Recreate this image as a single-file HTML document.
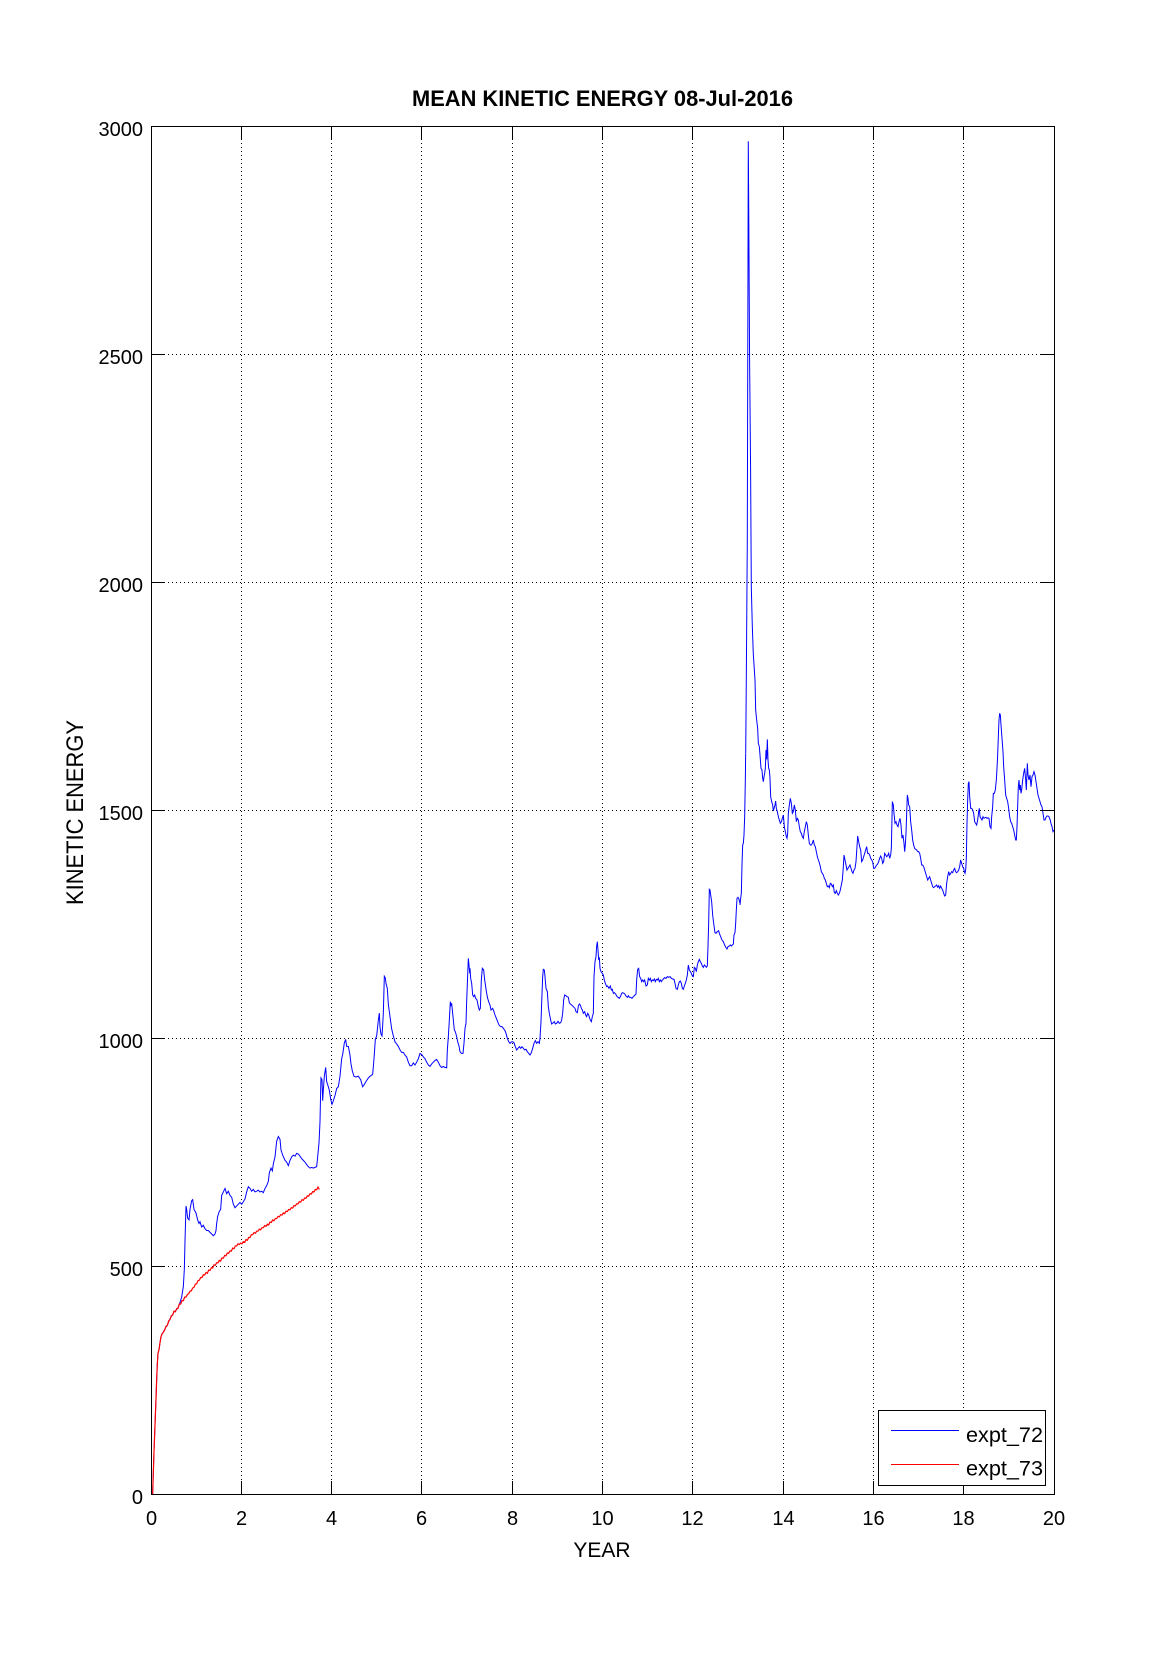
<!DOCTYPE html>
<html>
<head>
<meta charset="utf-8">
<style>
html,body{margin:0;padding:0;background:#fff;}
svg{display:block;}
text{font-family:"Liberation Sans",Arial,sans-serif;fill:#000;}
</style>
</head>
<body>
<svg width="1165" height="1679" viewBox="0 0 1165 1679" xmlns="http://www.w3.org/2000/svg">
<rect x="0" y="0" width="1165" height="1679" fill="#fff"/>

<!-- grid -->
<g stroke="#000" stroke-width="1" stroke-dasharray="1,3" fill="none">
  <line x1="241.5" y1="127" x2="241.5" y2="1494"/>
  <line x1="331.5" y1="127" x2="331.5" y2="1494"/>
  <line x1="421.5" y1="127" x2="421.5" y2="1494"/>
  <line x1="512.5" y1="127" x2="512.5" y2="1494"/>
  <line x1="602.5" y1="127" x2="602.5" y2="1494"/>
  <line x1="692.5" y1="127" x2="692.5" y2="1494"/>
  <line x1="783.5" y1="127" x2="783.5" y2="1494"/>
  <line x1="873.5" y1="127" x2="873.5" y2="1494"/>
  <line x1="963.5" y1="127" x2="963.5" y2="1494"/>
  <line x1="152" y1="354.5" x2="1054" y2="354.5"/>
  <line x1="152" y1="582.5" x2="1054" y2="582.5"/>
  <line x1="152" y1="810.5" x2="1054" y2="810.5"/>
  <line x1="152" y1="1038.5" x2="1054" y2="1038.5"/>
  <line x1="152" y1="1266.5" x2="1054" y2="1266.5"/>
</g>

<!-- blue series piece 1 (years 0 - 6.6) -->
<g transform="translate(150,950) scale(0.333333,0.350631)">
<polyline fill="none" stroke="#0000ff" stroke-width="1" vector-effect="non-scaling-stroke" points="
8,1552 10,1490 12,1430 14,1380 16,1330 18,1280 20,1225 22,1180 24,1150 27,1140 30,1120 33,1103 36,1095 40,1090 44,1082 48,1075 52,1070 56,1060 60,1052 64,1045 68,1040 72,1032 76,1030 80,1025 84,1020
90,1005 95,990 100,960 103,910 105,830 108,730 110,740 113,765 117,770 120,740 125,715 128,712 132,740 138,750 143,770 147,780 150,775 155,790 160,785 165,795 170,800 175,800 180,805 185,810 190,815 195,810 198,800 200,780 203,760 208,745 212,740 215,700 220,690 225,680 230,695 235,688 240,700 245,705 250,725 255,735 260,730 265,725 270,720 275,725 280,718 285,710 290,690 295,675 300,680 305,688 310,683 315,690 320,688 325,685 330,690 335,688 340,692 345,680 350,672 355,660 358,635 363,622 367,630 370,610 375,590 380,545 385,532 390,540 393,570 398,585 405,600 410,605 415,615 420,600 425,590 430,585 435,588 440,580 445,582 450,588 455,595 460,600 465,605 470,612 475,618 480,622 485,620 490,622 495,620 500,618 503,590 507,550 510,490 512,400 513,365 516,370 518,430 520,400 523,360 527,335 530,375 535,390 538,400 542,425 546,440 550,430 555,415 560,395 565,390 570,360 575,310 578,298 583,265 587,255 590,275 595,275 600,300 603,325 607,345 612,360 618,362 625,360 632,370 638,390 642,385 648,375 655,365 660,360 668,355 672,310 676,255 680,245 685,200 688,180 690,220 693,240 696,245 698,215 700,180 703,75 706,80 708,95 712,110 715,155 720,190 725,225 730,245 735,262 740,268 745,275 750,285 755,292 760,292 765,300 770,305 775,320 780,330 785,330 790,322 795,328 800,320 805,310 810,295 815,298 820,305 825,310 830,320 835,328 840,332 845,325 850,320 855,315 860,312 865,320 870,330 875,335 880,332 885,335 890,335"/>
</g>

<!-- blue series piece 2 (years 6.5 - 13.2) -->
<g transform="translate(440,880) scale(0.333333)">
<polyline fill="none" stroke="#0000ff" stroke-width="1" vector-effect="non-scaling-stroke" points="
20,565 22,510 25,470 28,420 31,365 33,375 35,370 38,400 40,420 43,450 46,455 50,470 53,485 57,498 60,515 64,520 69,520 72,490 75,445 78,430 80,365 83,285 85,235 87,255 89,280 90,265 92,295 95,310 98,345 101,350 104,345 107,355 111,360 115,380 118,390 121,385 124,300 127,265 131,270 134,300 137,320 140,340 143,355 146,365 150,375 153,390 158,385 162,395 165,405 169,415 173,425 177,435 182,440 186,440 190,445 195,452 198,460 202,475 206,485 210,490 214,486 218,485 222,488 226,500 230,510 234,505 238,500 242,505 246,500 250,505 254,510 258,508 262,515 266,520 270,525 274,518 278,505 282,490 286,482 290,490 294,485 298,490 300,475 303,425 305,370 308,290 310,268 313,270 315,290 318,325 322,335 325,380 328,400 332,420 335,432 340,428 343,425 346,432 350,430 354,424 358,430 362,428 365,420 368,400 371,360 374,345 378,347 381,350 385,352 388,368 391,372 395,375 400,380 405,385 408,395 412,398 415,378 418,372 421,375 424,385 427,390 430,400 434,395 437,405 440,410 443,400 446,405 450,418 454,425 457,410 460,400 462,290 465,245 468,230 470,198 472,185 474,210 476,240 478,232 480,265 483,275 487,280 490,285 493,300 496,310 500,320 503,318 507,325 511,318 514,330 517,328 520,340 523,338 527,342 530,348 534,352 538,355 542,348 545,340 548,338 552,340 555,343 558,348 562,352 565,347 568,352 572,352 576,355 580,350 585,345 588,342 590,300 593,268 596,265 599,290 602,295 605,305 608,300 611,305 614,300 618,318 622,315 625,295 628,300 631,295 634,305 637,300 640,302 643,297 646,305 649,298 652,300 655,295 658,305 661,300 664,305 667,300 670,297 674,293 678,295 682,290 686,292 690,290 694,295 698,297 702,298 705,310 708,325 712,328 715,315 718,305 721,303 724,310 727,325 730,328 733,318 736,310 739,300 742,285 745,255 748,270 751,275 754,280 757,288 760,290 763,262 766,265 769,275 772,255 775,245 778,238 781,245 784,250 787,258 790,262 793,255 796,258 799,262 802,258 804,200 806,130 808,28 810,30 812,45 815,65 818,105 821,130 825,158 828,160 832,155 836,152 838,160 842,170 846,180 850,185 854,195 858,203 861,207 864,200 868,198 871,195 874,198 877,195 880,192 882,165 885,157 887,130 889,90 891,55 894,52 897,58 900,70"/>
</g>

<!-- blue series piece 3a (years 13.0 - 13.2) -->
<g transform="translate(720,680) scale(0.333333)">
<polyline fill="none" stroke="#0000ff" stroke-width="1" vector-effect="non-scaling-stroke" points="
60,675 62,655 64,640 66,555 68,495 70,490 72,465 74,410 76,300 77,220"/>
</g>

<!-- spike -->
<polyline fill="none" stroke="#0000ff" stroke-width="1" points="745.7,753.3 746.3,680 747.3,541.5 748.3,141.2 748.8,219.5 749.6,361 750.6,469 751.3,587 752.3,626 753.3,654 755,680"/>

<!-- blue series piece 3b (years 13.3 - 20) -->
<g transform="translate(720,680) scale(0.333333)">
<polyline fill="none" stroke="#0000ff" stroke-width="1" vector-effect="non-scaling-stroke" points="
105,0 107,90 110,120 113,145 115,190 118,200 120,225 123,265 126,270 128,295 130,305 132,290 134,280 136,265 138,210 140,238 142,178 144,240 146,265 148,270 150,295 152,350 155,365 158,375 160,393 162,385 165,375 167,363 169,385 172,395 175,410 178,420 181,430 184,425 187,415 190,405 193,440 196,455 199,470 201,475 203,460 205,400 208,375 211,355 214,370 217,400 220,395 223,375 226,390 229,425 232,415 235,420 238,440 241,455 244,460 247,470 250,475 253,455 256,440 259,425 262,435 265,465 268,490 271,495 274,495 277,490 280,480 283,495 286,500 289,515 292,530 295,540 298,548 301,560 304,575 307,580 310,585 313,595 316,600 319,610 322,620 325,618 328,623 331,610 334,612 337,620 340,615 343,638 346,640 349,632 352,640 355,645 358,640 361,630 364,615 367,600 370,560 372,525 375,540 378,555 381,570 384,565 387,560 390,555 393,565 396,575 399,580 402,570 405,565 408,545 410,515 413,468 416,485 419,500 422,510 425,545 428,540 431,530 434,520 437,510 440,500 443,520 446,520 449,525 452,535 455,540 458,545 461,565 464,565 467,560 470,555 473,552 476,545 479,535 482,528 485,535 488,550 491,545 494,520 497,525 500,530 503,527 506,520 509,535 512,525 514,505 517,365 520,375 522,400 525,430 528,425 531,435 534,440 537,425 540,415 543,435 546,475 549,465 552,490 554,515 556,495 558,460 560,400 562,345 564,355 566,375 569,380 572,425 575,450 578,480 581,495 584,505 587,508 590,510 593,515 596,515 599,520 602,535 605,555 608,555 611,560 614,570 617,580 620,590 623,600 626,595 629,590 632,600 635,610 638,620 641,623 644,620 647,618 650,615 653,622 656,617 659,625 662,618 665,625 668,630 671,640 674,648 677,645 680,610 683,590 686,575 689,585 692,580 695,575 698,578 701,570 704,565 707,575 710,578 713,575 716,570 719,560 722,540 725,550 728,560 731,565 733,575 735,580 737,570 739,535 741,430 743,360 745,310 747,305 749,350 752,385 755,385 758,390 761,400 764,425 767,430 770,435 773,420 776,395 778,385 780,410 783,415 786,420 789,410 792,415 795,413 798,412 801,415 804,413 807,415 810,440 813,445 815,410 818,380 820,340 823,340 826,330 829,300 831,265 833,225 835,170 837,120 839,100 841,105 843,135 846,175 849,215 851,260 854,300 857,345 860,355 863,365 866,385 869,410 872,425 875,430 878,440 881,450 884,465 887,480 889,480 891,440 893,380 895,320 897,300 899,330 901,315 903,340 905,330 908,300 911,280 914,265 917,300 919,330 922,250 924,285 927,300 930,285 933,320 936,290 939,285 942,275 945,285 948,305 951,325 954,345 957,355 960,365 963,375 966,380 969,400 972,420 975,420 978,412 981,408 984,408 987,410 990,418 993,430 996,440 999,455 1002,450"/>
</g>

<!-- red series -->
<g transform="translate(150,950) scale(0.333333,0.350631)">
<polyline fill="none" stroke="#ff0000" stroke-width="1.2" vector-effect="non-scaling-stroke" points="
8,1552 10,1490 12,1430 14,1380 16,1330 18,1280 20,1225 22,1180 24,1150 27,1140 30,1120 33,1103 36,1095 40,1090 44,1084 48,1073 52,1071 56,1058 60,1054 64,1043 68,1041 72,1030 76,1032 80,1023 84,1022 88,1010 92,1010 96,1000 100,1000 104,990 108,990 112,983 116,980 120,973 124,972 128,964 132,962 136,953 140,952 144,943 148,942 152,934 156,934 160,926 164,927 168,920 172,922 176,913 180,914 184,906 188,907 192,898 196,899 200,892 204,892 208,885 212,887 216,878 220,879 224,871 228,872 232,864 236,865 240,858 244,859 248,850 252,852 256,844 260,844 264,838 268,840 272,836 276,838 280,832 284,834 288,826 292,828 296,820 300,820 304,812 308,812 312,806 316,808 320,802 324,802 328,796 332,798 336,792 340,792 344,786 348,788 352,782 356,784 360,776 364,777 368,770 372,772 376,766 380,766 384,760 388,761 392,755 396,756 400,750 404,752 408,745 412,746 416,740 420,741 424,735 428,736 432,729 436,730 440,724 444,724 448,718 452,719 456,712 460,714 464,707 468,708 472,701 476,702 480,695 484,696 488,689 492,690 496,683 500,684 504,676 508,683"/>
</g>

<!-- axes box -->
<rect x="151.5" y="126.5" width="903" height="1368" fill="none" stroke="#000" stroke-width="1"/>

<!-- ticks -->
<g stroke="#000" stroke-width="1">
  <line x1="241.5" y1="1494" x2="241.5" y2="1481"/><line x1="241.5" y1="127" x2="241.5" y2="140"/>
  <line x1="331.5" y1="1494" x2="331.5" y2="1481"/><line x1="331.5" y1="127" x2="331.5" y2="140"/>
  <line x1="421.5" y1="1494" x2="421.5" y2="1481"/><line x1="421.5" y1="127" x2="421.5" y2="140"/>
  <line x1="512.5" y1="1494" x2="512.5" y2="1481"/><line x1="512.5" y1="127" x2="512.5" y2="140"/>
  <line x1="602.5" y1="1494" x2="602.5" y2="1481"/><line x1="602.5" y1="127" x2="602.5" y2="140"/>
  <line x1="692.5" y1="1494" x2="692.5" y2="1481"/><line x1="692.5" y1="127" x2="692.5" y2="140"/>
  <line x1="783.5" y1="1494" x2="783.5" y2="1481"/><line x1="783.5" y1="127" x2="783.5" y2="140"/>
  <line x1="873.5" y1="1494" x2="873.5" y2="1481"/><line x1="873.5" y1="127" x2="873.5" y2="140"/>
  <line x1="963.5" y1="1494" x2="963.5" y2="1481"/><line x1="963.5" y1="127" x2="963.5" y2="140"/>
  <line x1="152" y1="354.5" x2="165" y2="354.5"/><line x1="1054" y1="354.5" x2="1041" y2="354.5"/>
  <line x1="152" y1="582.5" x2="165" y2="582.5"/><line x1="1054" y1="582.5" x2="1041" y2="582.5"/>
  <line x1="152" y1="810.5" x2="165" y2="810.5"/><line x1="1054" y1="810.5" x2="1041" y2="810.5"/>
  <line x1="152" y1="1038.5" x2="165" y2="1038.5"/><line x1="1054" y1="1038.5" x2="1041" y2="1038.5"/>
  <line x1="152" y1="1266.5" x2="165" y2="1266.5"/><line x1="1054" y1="1266.5" x2="1041" y2="1266.5"/>
</g>

<!-- legend -->
<rect x="878.5" y="1410.5" width="167" height="75" fill="#fff" stroke="#000" stroke-width="1"/>
<line x1="891" y1="1430.5" x2="959" y2="1430.5" stroke="#0000ff" stroke-width="1"/>
<line x1="891" y1="1464.5" x2="959" y2="1464.5" stroke="#ff0000" stroke-width="1"/>
<text x="966" y="1442" font-size="21" textLength="77" lengthAdjust="spacingAndGlyphs">expt_72</text>
<text x="966" y="1475.5" font-size="21" textLength="77" lengthAdjust="spacingAndGlyphs">expt_73</text>

<!-- title -->
<text x="602.5" y="106" font-size="22" font-weight="bold" text-anchor="middle" textLength="381" lengthAdjust="spacingAndGlyphs">MEAN KINETIC ENERGY 08-Jul-2016</text>

<!-- y tick labels -->
<g font-size="20" text-anchor="end">
  <text x="143" y="136">3000</text>
  <text x="143" y="364">2500</text>
  <text x="143" y="592">2000</text>
  <text x="143" y="820">1500</text>
  <text x="143" y="1048">1000</text>
  <text x="143" y="1276">500</text>
  <text x="143" y="1504">0</text>
</g>

<!-- x tick labels -->
<g font-size="20" text-anchor="middle">
  <text x="151.5" y="1525">0</text>
  <text x="241.5" y="1525">2</text>
  <text x="331.5" y="1525">4</text>
  <text x="421.5" y="1525">6</text>
  <text x="512.5" y="1525">8</text>
  <text x="602.5" y="1525">10</text>
  <text x="692.5" y="1525">12</text>
  <text x="783.5" y="1525">14</text>
  <text x="873.5" y="1525">16</text>
  <text x="963.5" y="1525">18</text>
  <text x="1054" y="1525">20</text>
</g>

<!-- axis labels -->
<text x="602" y="1557" font-size="21" text-anchor="middle">YEAR</text>
<text transform="translate(83,812.5) rotate(-90)" x="0" y="0" font-size="24" text-anchor="middle" textLength="185" lengthAdjust="spacingAndGlyphs">KINETIC ENERGY</text>
</svg>
</body>
</html>
